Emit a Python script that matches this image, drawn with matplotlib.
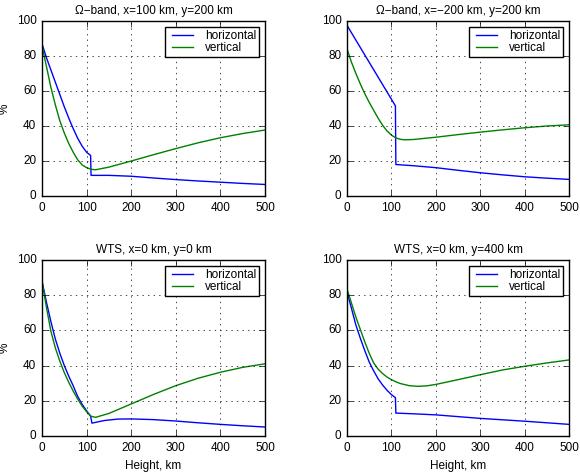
import matplotlib
matplotlib.use('Agg')
import matplotlib.pyplot as plt
import numpy as np

plt.style.use('classic')
plt.rcParams['font.family'] = ['Liberation Sans', 'DejaVu Sans']
plt.rcParams['font.size'] = 8.5
plt.rcParams['figure.facecolor'] = 'white'
plt.rcParams['savefig.facecolor'] = 'white'

# --- data ---
# Omega-band, x=100 km, y=200 km
h1_x = [0, 10, 20, 30, 40, 50, 60, 70, 80, 90, 100, 109, 110, 150, 200, 250, 300, 350, 400, 450, 500]
h1_y = [87, 79, 72, 65, 58, 51, 44.5, 38.5, 33, 28.5, 25, 23.2, 11.8, 11.8, 11.3, 10.3, 9.4, 8.6, 7.9, 7.2, 6.6]
v1_x = [0, 10, 20, 30, 40, 50, 60, 70, 80, 90, 100, 110, 120, 150, 200, 250, 300, 350, 400, 450, 500]
v1_y = [86, 74, 62, 52, 43, 36, 30, 25, 20.7, 17.8, 16.2, 15.3, 15, 16.5, 20, 23.6, 27.1, 30.4, 33.3, 35.7, 37.7]

# Omega-band, x=-200 km, y=200 km
h2_x = [0, 109, 110, 150, 200, 250, 300, 350, 400, 450, 500]
h2_y = [97.5, 51.5, 18, 17.3, 16.2, 14.7, 13.3, 12.1, 11, 10.2, 9.5]
v2_x = [0, 10, 20, 30, 40, 50, 60, 70, 80, 90, 100, 110, 120, 130, 150, 200, 250, 300, 350, 400, 450, 500]
v2_y = [84, 76.5, 70, 64, 58.5, 53.5, 49, 44.5, 40.5, 37.2, 34.8, 33.2, 32.4, 32.1, 32.3, 33.6, 35.1, 36.5, 37.8, 39, 40, 40.7]

# WTS, x=0 km, y=0 km
h3_x = [0, 10, 20, 30, 40, 50, 60, 70, 80, 90, 100, 109, 112, 140, 170, 200, 250, 300, 350, 400, 450, 500]
h3_y = [88, 76, 65, 55, 47, 40, 34, 28.5, 22.5, 18, 14.3, 11.2, 7.3, 8.8, 9.6, 9.7, 9.3, 8.5, 7.5, 6.6, 5.8, 5.1]
v3_x = [0, 10, 20, 30, 40, 50, 60, 70, 80, 90, 100, 110, 120, 150, 200, 250, 300, 350, 400, 450, 500]
v3_y = [88, 73, 59.5, 50, 42.5, 36, 30.5, 25.5, 21, 17, 13.8, 11.2, 10.6, 12.8, 18.2, 23.6, 28.6, 32.8, 36.2, 39, 41]

# WTS, x=0 km, y=400 km
h4_x = [0, 10, 20, 30, 40, 50, 60, 70, 80, 90, 100, 109, 110, 150, 200, 250, 300, 350, 400, 450, 500]
h4_y = [82, 72.5, 63, 55.5, 48.5, 42, 37, 32.5, 29, 26, 23.5, 21.8, 13, 12.6, 12, 11, 10, 9.2, 8.4, 7.5, 6.6]
v4_x = [0, 10, 20, 30, 40, 50, 60, 70, 80, 90, 100, 110, 120, 140, 160, 180, 200, 250, 300, 350, 400, 450, 500]
v4_y = [83.5, 75.5, 67.5, 60.5, 53.5, 47, 41.5, 38, 35.5, 33.5, 32, 30.8, 29.8, 28.6, 28.2, 28.5, 29.3, 32, 34.8, 37.5, 39.6, 41.5, 43.2]

titles = ['\u03a9\u2212band, x=100 km, y=200 km',
          '\u03a9\u2212band, x=\u2212200 km, y=200 km',
          'WTS, x=0 km, y=0 km',
          'WTS, x=0 km, y=400 km']

panels = [(h1_x, h1_y, v1_x, v1_y),
          (h2_x, h2_y, v2_x, v2_y),
          (h3_x, h3_y, v3_x, v3_y),
          (h4_x, h4_y, v4_x, v4_y)]

fig = plt.figure(figsize=(5.8, 4.72), dpi=100)

rects = [[0.0724, 0.5847, 0.3845, 0.3708],
         [0.5983, 0.5847, 0.3828, 0.3708],
         [0.0724, 0.0763, 0.3845, 0.3729],
         [0.5983, 0.0763, 0.3828, 0.3729]]

for i, (hx, hy, vx, vy) in enumerate(panels):
    ax = fig.add_axes(rects[i])
    ax.plot(hx, hy, 'b-', linewidth=1, label='horizontal')
    ax.plot(vx, vy, 'g-', linewidth=1, label='vertical')
    ax.set_xlim(0, 500)
    ax.set_ylim(0, 100)
    ax.set_xticks([0, 100, 200, 300, 400, 500])
    ax.set_yticks([0, 20, 40, 60, 80, 100])
    ax.grid(True)
    ax.set_title(titles[i], fontsize=8.5)
    ax.tick_params(labelsize=8.5)
    if i % 2 == 0:
        ax.set_ylabel('%', fontsize=8.5)
        ax.yaxis.set_label_coords(-0.14, 0.5)
    if i >= 2:
        ax.set_xlabel('Height, km', fontsize=8.5)
    ax.legend(loc='upper right', fontsize=8.5, handlelength=2.4, borderpad=0.25,
              labelspacing=0.05, handletextpad=0.7)

plt.savefig('out.png', dpi=100)
